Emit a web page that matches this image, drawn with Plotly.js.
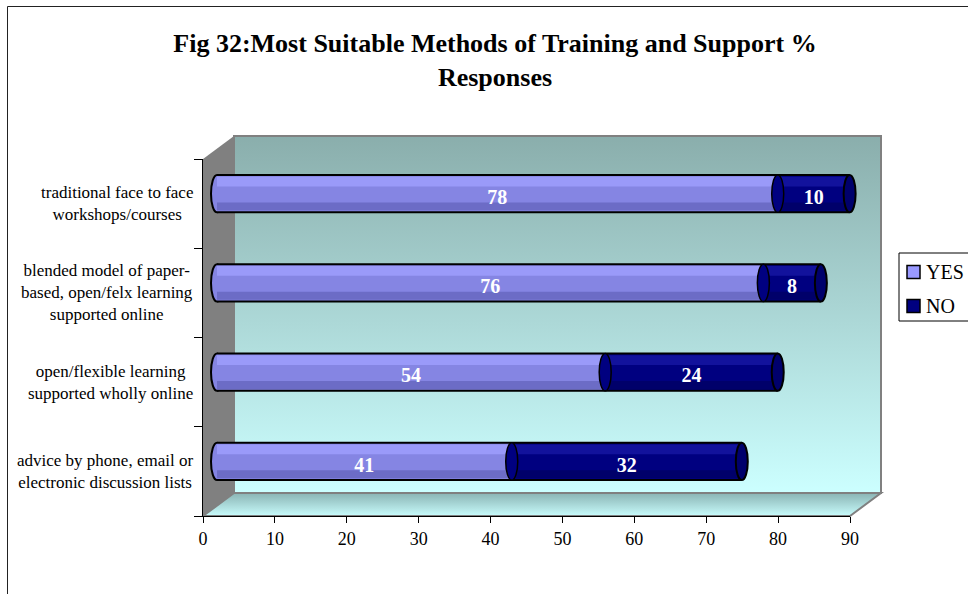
<!DOCTYPE html>
<html>
<head>
<meta charset="utf-8">
<script src="https://cdn.plot.ly/plotly-3.0.1.min.js"></script>
<style>
  html, body { margin: 0; padding: 0; background: #ffffff; }
  #chart { width: 968px; height: 594px; }
</style>
</head>
<body>
<div id="chart"></div>
<script>
// ---- data ----
const categories = [
  'traditional face to face<br>workshops/courses',
  'blended model of paper-<br>based, open/felx learning<br>supported online',
  'open/flexible learning<br>supported wholly online',
  'advice by phone, email or<br>electronic discussion lists'
];
const yesValues = [78, 76, 54, 41];
const noValues = [10, 8, 24, 32];
const seriesNames = ['YES', 'NO'];
const xTickValues = [0, 10, 20, 30, 40, 50, 60, 70, 80, 90];
const chartTitle = 'Fig 32:Most Suitable Methods of Training and Support %<br>Responses';

// ---- page geometry (px) ----
const W = 968, H = 594;
const AX_L = 203, AX_R = 850;      // front value axis, 0 .. 90
const AX_T = 159, AX_B = 516;      // front category axis
const DEPTH_X = 31, DEPTH_Y = 23;  // offset of the back wall
const BAR_DX = 14, BAR_DY = 10;    // cylinders sit partway into the depth
const X_MAX = 90;
const pxPerUnit = (AX_R - AX_L) / X_MAX;

const fx = px => px / W;
const fy = py => 1 - py / H;

const FONT = 'Liberation Serif, Times New Roman, serif';
const YES_COLOR = '#8585e3';
const NO_COLOR = '#000080';

const idx = categories.map((_, i) => i);
const totals = yesValues.map((v, i) => v + noValues[i]);

// ---- 3D walls and outer frame, drawn as one background picture ----
const BX0 = AX_L + DEPTH_X, BX1 = AX_R + DEPTH_X;
const BY0 = AX_T - DEPTH_Y, BY1 = AX_B - DEPTH_Y;
const wallSvg =
  `<svg xmlns='http://www.w3.org/2000/svg' width='${W}' height='${H}' viewBox='0 0 ${W} ${H}'>` +
  `<defs>` +
  `<linearGradient id='w' x1='0' y1='0' x2='0' y2='1'><stop offset='0' stop-color='#8aaeac'/><stop offset='1' stop-color='#ccffff'/></linearGradient>` +
  `<linearGradient id='f' x1='0' y1='0' x2='0' y2='1'><stop offset='0' stop-color='#8ab4b4'/><stop offset='1' stop-color='#c8fcfc'/></linearGradient>` +
  `</defs>` +
  `<rect x='${BX0}' y='${BY0}' width='${BX1 - BX0}' height='${BY1 - BY0}' fill='url(#w)' stroke='#808080' stroke-width='2'/>` +
  `<polygon points='${AX_L},${AX_T} ${BX0},${BY0} ${BX0},${BY1} ${AX_L},${AX_B}' fill='#808080'/>` +
  `<polygon points='${AX_L},${AX_B} ${BX0},${BY1} ${BX1},${BY1} ${AX_R},${AX_B}' fill='url(#f)' stroke='#808080' stroke-width='2'/>` +
  `<path d='M7.5,${H + 5} L7.5,6.5 L${W + 5},6.5' fill='none' stroke='#222' stroke-width='1'/>` +
  `</svg>`;
const wallImage = 'data:image/svg+xml;charset=utf-8,' + encodeURIComponent(wallSvg);

// ---- traces ----
const BAR_W = 0.42;
const barBase = {
  type: 'bar', orientation: 'h', xaxis: 'x2', yaxis: 'y2',
  hoverinfo: 'skip', showlegend: false
};
const traces = [
  Object.assign({}, barBase, { name: seriesNames[0], x: yesValues, y: idx,
    width: BAR_W, offset: -BAR_W / 2, marker: { color: YES_COLOR, line: { width: 0 } } }),
  Object.assign({}, barBase, { name: seriesNames[1], x: noValues, base: yesValues, y: idx,
    width: BAR_W, offset: -BAR_W / 2, marker: { color: NO_COLOR, line: { width: 0 } } }),
  // cylinder shading: light band on top, darker band underneath
  Object.assign({}, barBase, { x: yesValues, y: idx, width: 0.11, offset: -0.19,
    marker: { color: '#9a9af9', line: { width: 0 } } }),
  Object.assign({}, barBase, { x: yesValues, y: idx, width: 0.09, offset: 0.10,
    marker: { color: '#6c6cc6', line: { width: 0 } } }),
  Object.assign({}, barBase, { x: noValues, base: yesValues, y: idx, width: 0.11, offset: -0.19,
    marker: { color: '#12129c', line: { width: 0 } } }),
  Object.assign({}, barBase, { x: noValues, base: yesValues, y: idx, width: 0.09, offset: 0.10,
    marker: { color: '#00006a', line: { width: 0 } } }),
  // value labels in each segment
  {
    type: 'scatter', mode: 'text', xaxis: 'x2', yaxis: 'y2', showlegend: false, hoverinfo: 'skip',
    x: yesValues.map(v => v / 2).concat(noValues.map((v, i) => yesValues[i] + v / 2)),
    y: idx.concat(idx).map(i => i + 0.06),
    text: yesValues.map(String).concat(noValues.map(String)),
    textposition: 'middle center',
    textfont: { family: FONT, size: 20, color: '#ffffff', weight: 'bold' }
  }
];

// ---- cylinder outlines and end caps ----
const capHalfW = 6 / pxPerUnit;
const halfH = BAR_W / 2;
const shapes = [];
idx.forEach(i => {
  shapes.push({ type: 'circle', xref: 'x2', yref: 'y2', layer: 'below',
    x0: -capHalfW, x1: capHalfW, y0: i - halfH, y1: i + halfH,
    fillcolor: YES_COLOR, line: { color: '#000', width: 2 } });
  shapes.push({ type: 'line', xref: 'x2', yref: 'y2', layer: 'above',
    x0: 0, x1: totals[i], y0: i - halfH, y1: i - halfH, line: { color: '#000', width: 2 } });
  shapes.push({ type: 'line', xref: 'x2', yref: 'y2', layer: 'above',
    x0: 0, x1: totals[i], y0: i + halfH, y1: i + halfH, line: { color: '#000', width: 2 } });
  shapes.push({ type: 'circle', xref: 'x2', yref: 'y2', layer: 'above',
    x0: yesValues[i] - capHalfW, x1: yesValues[i] + capHalfW, y0: i - halfH, y1: i + halfH,
    fillcolor: NO_COLOR, line: { color: '#000', width: 1.5 } });
  shapes.push({ type: 'circle', xref: 'x2', yref: 'y2', layer: 'above',
    x0: totals[i] - capHalfW, x1: totals[i] + capHalfW, y0: i - halfH, y1: i + halfH,
    fillcolor: '#00006c', line: { color: '#000', width: 2 } });
});

// ---- legend box ----
const LG_X = 899, LG_Y = 253, LG_B = 321;
shapes.push({ type: 'rect', xref: 'paper', yref: 'paper', layer: 'above',
  x0: fx(LG_X), x1: fx(W + 10), y0: fy(LG_B), y1: fy(LG_Y),
  fillcolor: '#ffffff', line: { color: '#000', width: 1 } });
const legendColors = ['#9999ff', NO_COLOR];
const legendRows = [272, 306];
const annotations = [];
seriesNames.forEach((name, k) => {
  const cy = legendRows[k];
  shapes.push({ type: 'rect', xref: 'paper', yref: 'paper', layer: 'above',
    x0: fx(907), x1: fx(920), y0: fy(cy + 6.5), y1: fy(cy - 6.5),
    fillcolor: legendColors[k], line: { color: '#000', width: 1.5 } });
  annotations.push({ xref: 'paper', yref: 'paper', x: fx(924), y: fy(cy),
    xanchor: 'left', yanchor: 'middle', showarrow: false, text: name,
    font: { family: FONT, size: 20, color: '#000' } });
});

// ---- category labels: right-aligned blocks, lines centred inside each block ----
categories.forEach((label, i) => {
  annotations.push({ xref: 'paper', yref: 'y', x: fx(195), y: i,
    xanchor: 'right', yanchor: 'middle', align: 'center', showarrow: false,
    text: label, font: { family: FONT, size: 17, color: '#000' } });
});

const layout = {
  width: W, height: H,
  margin: { l: 0, r: 0, t: 0, b: 0 },
  paper_bgcolor: '#ffffff',
  plot_bgcolor: 'rgba(0,0,0,0)',
  showlegend: false,
  barmode: 'overlay',
  title: {
    text: chartTitle,
    font: { family: FONT, size: 26, color: '#000', weight: 'bold' },
    x: fx(495), xanchor: 'center', xref: 'paper',
    y: fy(52), yanchor: 'top', yref: 'paper'
  },
  xaxis: {
    domain: [fx(AX_L), fx(AX_R)], range: [0, X_MAX], anchor: 'y',
    tickmode: 'array', tickvals: xTickValues,
    ticks: 'outside', ticklen: 6, tickcolor: '#000', tickwidth: 1,
    showline: true, linecolor: '#000', linewidth: 1,
    showgrid: false, zeroline: false, fixedrange: true,
    tickfont: { family: FONT, size: 18, color: '#000' }
  },
  yaxis: {
    domain: [fy(AX_B), fy(AX_T)], range: [categories.length - 0.5, -0.5], anchor: 'x',
    tickmode: 'array', tickvals: idx.map(i => i - 0.5).concat([categories.length - 0.5]),
    ticks: 'outside', ticklen: 8, tickcolor: '#000', tickwidth: 1,
    showticklabels: false,
    showline: true, linecolor: '#000', linewidth: 1,
    showgrid: false, zeroline: false, fixedrange: true
  },
  // cylinders live on their own pair of axes, shifted into the depth of the box
  xaxis2: {
    domain: [fx(AX_L), fx(AX_R + BAR_DX)], range: [-BAR_DX / pxPerUnit, X_MAX],
    anchor: 'y2', visible: false, fixedrange: true
  },
  yaxis2: {
    domain: [fy(AX_B - BAR_DY), fy(AX_T - BAR_DY)], range: [categories.length - 0.5, -0.5],
    anchor: 'x2', visible: false, fixedrange: true
  },
  images: [{
    source: wallImage, xref: 'paper', yref: 'paper',
    x: 0, y: 1, sizex: 1, sizey: 1, xanchor: 'left', yanchor: 'top',
    sizing: 'stretch', layer: 'below'
  }],
  shapes: shapes,
  annotations: annotations
};

Plotly.newPlot('chart', traces, layout, { displayModeBar: false, staticPlot: true });
</script>
</body>
</html>
